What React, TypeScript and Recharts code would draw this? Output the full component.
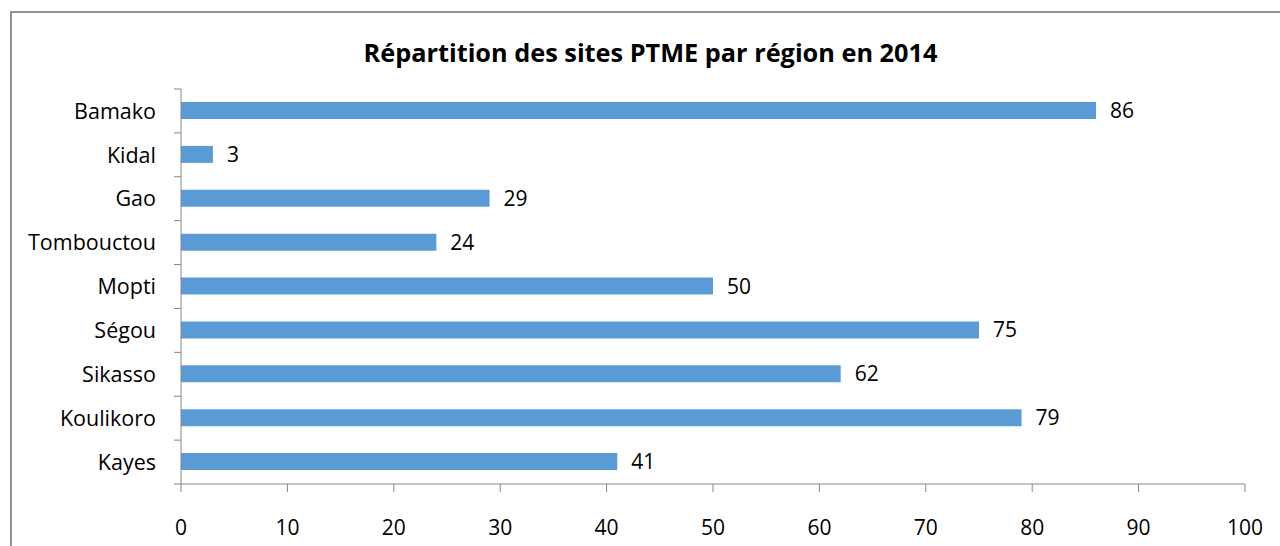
import { BarChart, Bar, XAxis, YAxis, LabelList } from "recharts";

const regions = [
  "Kayes",
  "Koulikoro",
  "Sikasso",
  "Ségou",
  "Mopti",
  "Tombouctou",
  "Gao",
  "Kidal",
  "Bamako",
];
const sites = [41, 79, 62, 75, 50, 24, 29, 3, 86];
const xTicks = [0, 10, 20, 30, 40, 50, 60, 70, 80, 90, 100];

const data = regions.map((name, i) => ({ name, sites: sites[i] }));

const FONT = "'Open Sans', sans-serif";
const AXIS = "#868686";
const BAND = 395 / regions.length;

const RegionTick = (props: any) => {
  const { x, y, payload, index } = props;
  return (
    <g>
      <line x1={x + 18} x2={x + 25} y1={y - BAND / 2} y2={y - BAND / 2} stroke={AXIS} />
      {index === 0 && (
        <line x1={x + 18} x2={x + 25} y1={y + BAND / 2} y2={y + BAND / 2} stroke={AXIS} />
      )}
      <text
        x={x}
        y={y}
        dy="0.36em"
        textAnchor="end"
        fill="#000"
        fontSize={21.5}
        fontFamily={FONT}
      >
        {payload.value}
      </text>
    </g>
  );
};

export default function App() {
  return (
    <div
      style={{
        position: "absolute",
        left: 0,
        top: 0,
        width: 1280,
        height: 546,
        overflow: "hidden",
        background: "#fff",
        fontFamily: FONT,
      }}
    >
      <div
        style={{
          position: "absolute",
          left: 10,
          top: 11,
          width: 1300,
          height: 560,
          borderLeft: "2px solid #939393",
          borderTop: "2px solid #939393",
        }}
      />
      <div
        style={{
          position: "absolute",
          left: 0,
          width: 1301,
          top: 40,
          lineHeight: "25px",
          fontSize: 25.3,
          fontWeight: 700,
          textAlign: "center",
          color: "#000",
        }}
      >
        Répartition des sites PTME par région en 2014
      </div>
      <div style={{ position: "absolute", left: 0, top: 0 }}>
        <BarChart
          width={1280}
          height={546}
          data={data}
          layout="vertical"
          margin={{ top: 89, right: 35, bottom: 32, left: 0 }}
        >
          <XAxis
            type="number"
            domain={[0, 100]}
            ticks={xTicks}
            interval={0}
            height={30}
            stroke={AXIS}
            tickSize={8}
            tickMargin={28}
            tick={{ fill: "#000", fontSize: 21, fontFamily: FONT }}
          />
          <YAxis
            type="category"
            dataKey="name"
            reversed
            width={181}
            stroke={AXIS}
            tickLine={false}
            tickSize={7}
            tickMargin={18}
            interval={0}
            tick={<RegionTick />}
          />
          <Bar dataKey="sites" fill="#5B9BD5" barSize={17} isAnimationActive={false}>
            <LabelList
              dataKey="sites"
              position="right"
              offset={14}
              fill="#000"
              fontSize={21}
              fontFamily={FONT}
            />
          </Bar>
        </BarChart>
      </div>
    </div>
  );
}
